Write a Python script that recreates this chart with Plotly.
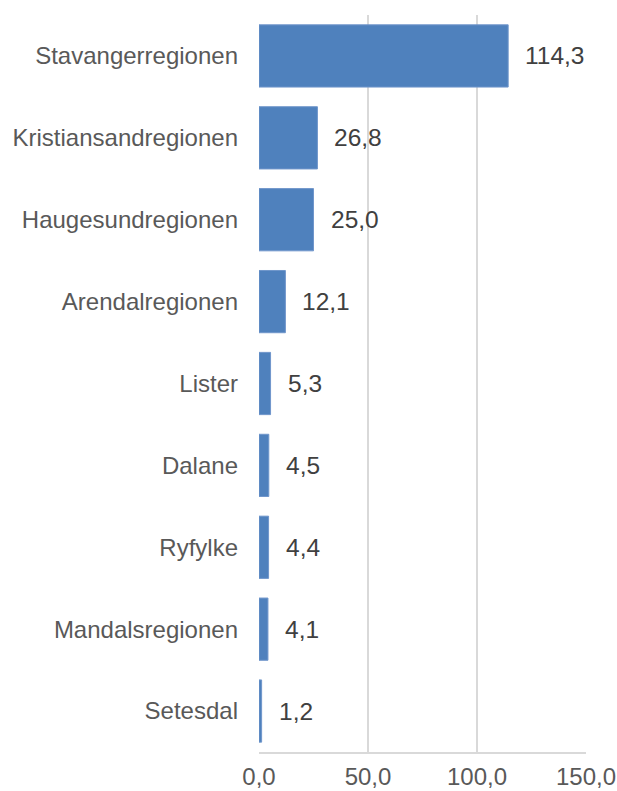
import plotly.graph_objects as go

regions = ["Stavangerregionen", "Kristiansandregionen", "Haugesundregionen",
           "Arendalregionen", "Lister", "Dalane", "Ryfylke",
           "Mandalsregionen", "Setesdal"]
values = [114.3, 26.8, 25.0, 12.1, 5.3, 4.5, 4.4, 4.1, 1.2]
tick_vals = [0, 50, 100, 150]
tick_text = ["0,0", "50,0", "100,0", "150,0"]

FONT = "Liberation Sans"


def fmt(v):
    return f"{v:.1f}".replace(".", ",")


fig = go.Figure(go.Bar(
    x=values,
    y=regions,
    orientation="h",
    width=0.76,
    marker=dict(color="#4F81BD", line=dict(color="#7096CB", width=1)),
    hoverinfo="skip",
))

for name, v in zip(regions, values):
    fig.add_annotation(
        x=v, y=name, text=fmt(v), showarrow=False,
        xanchor="left", yanchor="middle", xshift=15,
        font=dict(family=FONT, size=24.5, color="#404040"),
    )

fig.update_layout(
    width=617, height=791,
    margin=dict(l=259, r=31, t=15, b=39),
    paper_bgcolor="white", plot_bgcolor="white",
    showlegend=False,
    font=dict(family=FONT, size=24, color="#595959"),
    xaxis=dict(
        range=[0, 150], tickvals=tick_vals, ticktext=tick_text,
        showgrid=True, gridcolor="#D9D9D9", gridwidth=1.5,
        zeroline=False, showline=True, linecolor="#D9D9D9", linewidth=1.5,
        ticks="", ticklabelstandoff=2, automargin=False,
        tickfont=dict(family=FONT, size=24, color="#595959"),
    ),
    yaxis=dict(
        categoryorder="array", categoryarray=regions[::-1],
        showgrid=False, zeroline=False, showline=False,
        ticks="", ticklabelstandoff=20, automargin=False,
        tickfont=dict(family=FONT, size=24, color="#595959"),
    ),
)

fig.write_html("out.html")
